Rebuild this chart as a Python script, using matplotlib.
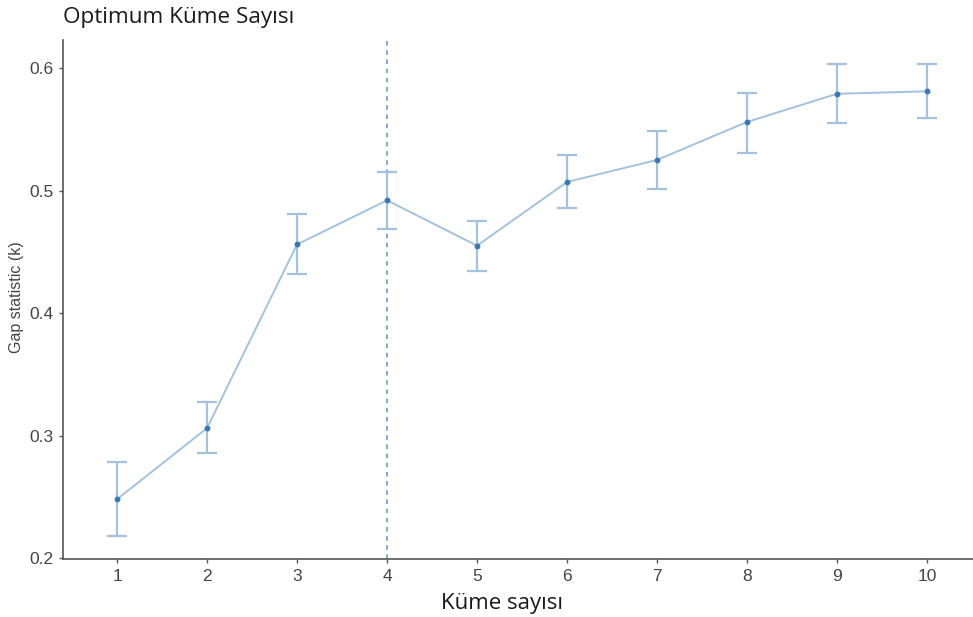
import matplotlib
matplotlib.use("Agg")
import matplotlib.pyplot as plt

# Gap statistic by number of clusters
k_values = [1, 2, 3, 4, 5, 6, 7, 8, 9, 10]
gap = [0.248, 0.306, 0.456, 0.492, 0.455, 0.507, 0.525, 0.556, 0.579, 0.581]
gap_low = [0.218, 0.286, 0.432, 0.469, 0.434, 0.486, 0.501, 0.531, 0.555, 0.559]
gap_high = [0.278, 0.327, 0.481, 0.515, 0.475, 0.529, 0.549, 0.580, 0.603, 0.603]
optimal_k = 4
y_ticks = [0.2, 0.3, 0.4, 0.5, 0.6]

W, H = 973, 617
fig = plt.figure(figsize=(W / 100, H / 100), dpi=100)
ax = fig.add_axes([63 / W, 1 - 559 / H, (W - 63) / W, (559 - 40) / H])

line_col = "#a3c2e0"
pt_col = "#3a78b5"

err_lo = [g - l for g, l in zip(gap, gap_low)]
err_hi = [h - g for g, h in zip(gap, gap_high)]
ax.errorbar(k_values, gap, yerr=[err_lo, err_hi], fmt="none",
            ecolor=line_col, elinewidth=1.6, capsize=7, capthick=1.6, zorder=2)
ax.plot(k_values, gap, color=line_col, lw=1.4, zorder=3)
ax.plot(k_values, gap, "o", color=pt_col, ms=3.2, zorder=4)
ax.axvline(optimal_k, color="#5a93cc", lw=1.1, ls=(0, (3, 3)), zorder=1)

ax.set_xlim(0.4, 10.51)
ax.set_ylim(0.1992, 0.6229)
ax.set_xticks(k_values)
ax.set_yticks(y_ticks)
ax.set_yticklabels([f"{v:.1f}" for v in y_ticks])

for s in ["top", "right"]:
    ax.spines[s].set_visible(False)
for s in ["left", "bottom"]:
    ax.spines[s].set_color("#555555")
    ax.spines[s].set_linewidth(1.2)
ax.tick_params(colors="#555555", length=3, width=1, labelsize=12.5,
               labelcolor="#444444", pad=4)
for lab in ax.get_xticklabels() + ax.get_yticklabels():
    lab.set_family("Liberation Sans")

fig.text(63 / W, 1 - 18 / H, "Optimum Küme Sayısı", family="Open Sans",
         fontsize=16.2, color="#1a1a1a", ha="left", va="center")
fig.text(502 / W, 1 - 603 / H, "Küme sayısı", family="Open Sans",
         fontsize=16, color="#1a1a1a", ha="center", va="center")
fig.text(17 / W, 1 - 297 / H, "Gap statistic (k)", family="Liberation Sans",
         fontsize=11.5, color="#444444", rotation=90, ha="center", va="center")

fig.savefig("out.png", dpi=100, facecolor="white")
